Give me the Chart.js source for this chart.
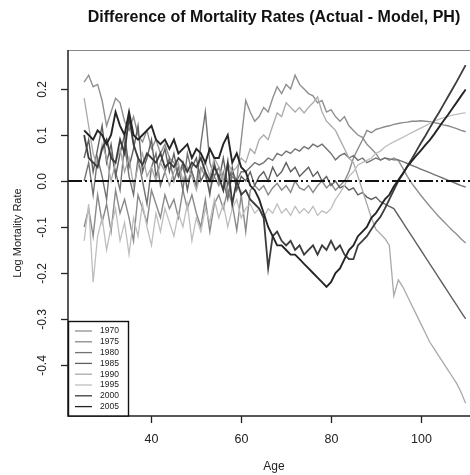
<!DOCTYPE html>
<html>
<head>
<meta charset="utf-8">
<script src="https://cdn.jsdelivr.net/npm/chart.js@4"></script>
<style>
  html, body { margin: 0; padding: 0; background: #fff; overflow: hidden; }
  #wrap { width: 480px; height: 475px; }
</style>
</head>
<body>
<div id="wrap"><canvas id="c" width="480" height="475"></canvas></div>
<script>
// Age grid (x axis)
const ages = [
  25, 26, 27, 28, 29, 30, 31, 32, 33, 34,
  35, 36, 37, 38, 39, 40, 41, 42, 43, 44,
  45, 46, 47, 48, 49, 50, 51, 52, 53, 54,
  55, 56, 57, 58, 59, 60, 61, 62, 63, 64,
  65, 66, 67, 68, 69, 70, 71, 72, 73, 74,
  75, 76, 77, 78, 79, 80, 81, 82, 83, 84,
  85, 86, 87, 88, 89, 90, 91, 92, 93, 94,
  95, 96, 97, 98, 99, 100, 101, 102, 103, 104,
  105, 106, 107, 108, 109, 110
];

const years = ['1970', '1975', '1980', '1985', '1990', '1995', '2000', '2005'];

// Log mortality difference (actual - model) by age, one list per year
const d1970 = [
  0.215, 0.23, 0.205, 0.21, 0.175, 0.12, 0.15, 0.18, 0.17, 0.13,
  0.11, 0.14, 0.10, 0.085, 0.11, 0.07, 0.09, 0.06, 0.08, 0.05,
  0.04, 0.01, 0.03, 0.00, 0.02, -0.01, 0.03, 0.01, -0.02, 0.01,
  -0.01, 0.02, -0.03, 0.01, 0.00, 0.09, 0.175, 0.15, 0.13, 0.14,
  0.16, 0.15, 0.18, 0.205, 0.19, 0.21, 0.20, 0.23, 0.21, 0.20,
  0.19, 0.185, 0.17, 0.175, 0.15, 0.155, 0.14, 0.13, 0.14, 0.12,
  0.11, 0.10, 0.095, 0.08, 0.07, 0.06, 0.045, 0.05, 0.045, 0.05,
  0.045, 0.028, 0.01, -0.005, -0.018, -0.031, -0.043, -0.055, -0.066, -0.077,
  -0.087, -0.097, -0.107, -0.116, -0.126, -0.135
];
const d1975 = [
  -0.10, -0.06, -0.12, -0.03, -0.09, -0.05, -0.11, -0.02, -0.07, -0.04,
  -0.08, -0.13, -0.03, -0.06, -0.09, -0.02, -0.05, -0.08, -0.03, -0.06,
  -0.04, -0.08, -0.02, -0.06, -0.03, -0.07, -0.10, -0.04, -0.11, -0.05,
  -0.03, -0.06, -0.02, -0.05, -0.107, -0.03, -0.11, -0.02, -0.01, -0.02,
  -0.01, -0.03, -0.015, -0.005, -0.02, -0.01, -0.025, 0.00, -0.015, -0.02,
  -0.01, -0.025, -0.01, 0.00, -0.015, -0.005, -0.02, -0.01, 0.00, 0.02,
  0.05, 0.07, 0.089, 0.11, 0.105, 0.112, 0.115, 0.118, 0.12, 0.123,
  0.125, 0.127, 0.128, 0.13, 0.13, 0.131, 0.13, 0.129, 0.127, 0.125,
  0.122, 0.12, 0.117, 0.114, 0.11, 0.107
];
const d1980 = [
  0.00, 0.04, -0.03, 0.05, 0.01, -0.04, 0.06, 0.02, -0.02, 0.08,
  0.01, -0.03, 0.05, 0.00, -0.05, 0.03, 0.06, -0.01, 0.02, 0.05,
  0.00, 0.03, -0.02, 0.06, 0.02, -0.01, 0.08, 0.15, 0.04, 0.01,
  0.03, 0.00, -0.04, 0.02, 0.00, 0.02, 0.02, 0.03, 0.04, 0.035,
  0.04, 0.05, 0.045, 0.06, 0.055, 0.065, 0.06, 0.07, 0.065, 0.075,
  0.07, 0.08, 0.074, 0.08, 0.07, 0.06, 0.046, 0.055, 0.06, 0.05,
  0.055, 0.045, 0.05, 0.04, 0.045, 0.05, 0.046, 0.05, 0.048, 0.046,
  0.046, 0.042, 0.038, 0.034, 0.03, 0.026, 0.022, 0.018, 0.014, 0.01,
  0.006, 0.002, -0.002, -0.006, -0.01, -0.013
];
const d1985 = [
  0.05, 0.09, 0.02, 0.07, 0.12, 0.04, 0.08, 0.01, 0.06, 0.10,
  0.03, 0.07, 0.12, 0.02, 0.05, 0.09, 0.01, 0.04, 0.07, 0.02,
  0.06, 0.01, 0.04, -0.02, 0.03, 0.05, 0.00, 0.02, -0.03, 0.04,
  0.00, 0.05, -0.01, 0.03, -0.02, 0.01, 0.00, 0.02, -0.01, 0.01,
  0.02, 0.00, 0.03, 0.01, 0.02, 0.04, 0.02, 0.03, 0.01, 0.02,
  0.03, 0.01, 0.02, 0.00, 0.01, -0.01, 0.00, -0.015, -0.01, -0.02,
  -0.015, -0.03, -0.025, -0.035, -0.04, -0.035, -0.045, -0.05, -0.055, -0.06,
  -0.075, -0.09, -0.105, -0.12, -0.135, -0.15, -0.165, -0.18, -0.195, -0.21,
  -0.225, -0.24, -0.255, -0.27, -0.285, -0.30
];
const d1990 = [
  0.18, 0.12, 0.06, 0.03, 0.08, 0.05, 0.00, 0.04, 0.07, 0.02,
  0.05, -0.01, 0.03, 0.06, 0.01, 0.03, 0.00, 0.04, 0.02, -0.01,
  0.02, 0.04, 0.00, 0.03, 0.01, -0.02, 0.02, 0.04, 0.01, 0.05,
  0.03, 0.00, 0.04, 0.02, 0.03, 0.05, 0.04, 0.07, 0.06, 0.09,
  0.10, 0.09, 0.12, 0.148, 0.14, 0.17, 0.16, 0.15, 0.16, 0.148,
  0.16, 0.17, 0.183, 0.15, 0.13, 0.12, 0.11, 0.09, 0.07, 0.05,
  0.04, 0.01, -0.02, -0.05, -0.08, -0.105, -0.115, -0.125, -0.14, -0.25,
  -0.215, -0.23, -0.25, -0.27, -0.29, -0.31, -0.33, -0.35, -0.365, -0.38,
  -0.395, -0.41, -0.425, -0.44, -0.46, -0.483
];
const d1995 = [
  -0.13, -0.05, -0.22, -0.12, -0.08, -0.15, -0.10, -0.06, -0.13, -0.09,
  -0.16, -0.08, -0.12, -0.05, -0.10, -0.14, -0.07, -0.11, -0.06, -0.09,
  -0.12, -0.07, -0.10, -0.05, -0.13, -0.08, -0.11, -0.06, -0.09, -0.04,
  -0.08, -0.05, -0.10, -0.06, -0.04, -0.08, -0.06, -0.05, -0.07, -0.06,
  -0.08, -0.06, -0.07, -0.05, -0.07, -0.06, -0.075, -0.055, -0.07, -0.06,
  -0.07, -0.055, -0.075, -0.065, -0.07, -0.06, -0.04, -0.026, -0.01, 0.01,
  0.02, 0.035, 0.04, 0.045, 0.05, 0.06, 0.065, 0.074, 0.08, 0.085,
  0.09, 0.095, 0.10, 0.105, 0.11, 0.115, 0.12, 0.125, 0.13, 0.134,
  0.137, 0.14, 0.143, 0.145, 0.147, 0.148
];
const d2000 = [
  0.10, 0.05, 0.04, 0.03, 0.07, 0.09, 0.05, 0.04, 0.09, 0.06,
  0.14, 0.08, 0.05, 0.035, 0.06, 0.05, 0.04, 0.06, 0.03, 0.04,
  0.03, 0.05, 0.04, 0.02, 0.04, 0.03, 0.05, 0.02, 0.00, 0.03,
  0.01, -0.02, 0.04, -0.05, 0.00, -0.03, -0.02, -0.04, -0.05, -0.06,
  -0.08, -0.19, -0.12, -0.11, -0.13, -0.14, -0.13, -0.15, -0.14, -0.16,
  -0.15, -0.14, -0.16, -0.14, -0.15, -0.13, -0.15, -0.14, -0.16, -0.17,
  -0.17, -0.14, -0.13, -0.12, -0.105, -0.09, -0.078, -0.06, -0.04, -0.02,
  0.00, 0.015, 0.032, 0.048, 0.065, 0.082, 0.098, 0.115, 0.132, 0.148,
  0.165, 0.182, 0.199, 0.216, 0.234, 0.252
];
const d2005 = [
  0.11, 0.10, 0.09, 0.11, 0.10, 0.08, 0.10, 0.15, 0.12, 0.10,
  0.15, 0.10, 0.09, 0.10, 0.11, 0.12, 0.09, 0.08, 0.09, 0.07,
  0.09, 0.06, 0.07, 0.08, 0.05, 0.07, 0.06, 0.04, 0.07, 0.05,
  0.05, 0.08, 0.10, 0.04, 0.06, 0.03, 0.02, -0.01, -0.02, -0.04,
  -0.07, -0.10, -0.12, -0.14, -0.14, -0.15, -0.16, -0.16, -0.17, -0.18,
  -0.19, -0.20, -0.21, -0.22, -0.23, -0.22, -0.20, -0.19, -0.17, -0.15,
  -0.14, -0.12, -0.11, -0.10, -0.08, -0.07, -0.055, -0.04, -0.03, -0.012,
  0.002, 0.016, 0.031, 0.043, 0.055, 0.066, 0.078, 0.089, 0.102, 0.116,
  0.13, 0.143, 0.157, 0.171, 0.185, 0.199
];
const seriesByYear = [d1970, d1975, d1980, d1985, d1990, d1995, d2000, d2005];

// Axis ticks
const xTicks = [40, 60, 80, 100];
const xTickLabels = ['40', '60', '80', '100'];
const yTicks = [-0.4, -0.3, -0.2, -0.1, 0, 0.1, 0.2];
const yTickLabels = ['-0.4', '-0.3', '-0.2', '-0.1', '0.0', '0.1', '0.2'];

const titleText = 'Difference of Mortality Rates (Actual - Model, PH)';
const xTitle = 'Age';
const yTitle = 'Log Mortality Rate';

const lineColors = ['#8f8f8f', '#8a8a8a', '#737373', '#606060', '#a9a9a9', '#bebebe', '#3c3c3c', '#242424'];
const lineWidths = [1.4, 1.4, 1.4, 1.4, 1.3, 1.3, 1.8, 1.9];

const FONT = '"Liberation Sans", Arial, Helvetica, sans-serif';

const datasets = years.map((yr, i) => ({
  label: yr,
  data: ages.map((a, k) => ({ x: a, y: seriesByYear[i][k] })),
  borderColor: lineColors[i],
  borderWidth: lineWidths[i],
  pointRadius: 0,
  tension: 0,
  fill: false,
  order: years.length - 1 - i
}));

// Dash-dot reference line at zero, drawn over the curves
const zeroLine = {
  id: 'zeroLine',
  afterDatasetsDraw(chart) {
    const { ctx, chartArea: a, scales: { y } } = chart;
    const py = y.getPixelForValue(0);
    ctx.save();
    ctx.beginPath();
    ctx.rect(a.left, a.top, a.right - a.left, a.bottom - a.top);
    ctx.clip();
    ctx.strokeStyle = '#111';
    ctx.lineWidth = 2;
    ctx.setLineDash([14, 3, 2, 3, 2, 3]);
    ctx.beginPath();
    ctx.moveTo(a.left, py);
    ctx.lineTo(a.right, py);
    ctx.stroke();
    ctx.restore();
  }
};

// Frame, ticks, labels, legend and title in base-graphics style
const frame = {
  id: 'frame',
  afterDraw(chart) {
    const { ctx, chartArea: a, scales: { x, y } } = chart;
    ctx.save();
    ctx.setLineDash([]);

    // plot box
    ctx.strokeStyle = '#888';
    ctx.lineWidth = 1;
    ctx.beginPath();
    ctx.moveTo(a.left, a.top + 0.5);
    ctx.lineTo(a.right, a.top + 0.5);
    ctx.stroke();
    ctx.strokeStyle = '#222';
    ctx.lineWidth = 1.5;
    ctx.beginPath();
    ctx.moveTo(a.left, a.top);
    ctx.lineTo(a.left, a.bottom);
    ctx.lineTo(a.right, a.bottom);
    ctx.stroke();

    // x ticks and labels
    ctx.fillStyle = '#222';
    ctx.font = '12.5px ' + FONT;
    ctx.textAlign = 'center';
    ctx.textBaseline = 'middle';
    ctx.lineWidth = 1.3;
    xTicks.forEach((v, i) => {
      const px = Math.round(x.getPixelForValue(v)) + 0.5;
      ctx.beginPath();
      ctx.moveTo(px, a.bottom);
      ctx.lineTo(px, a.bottom + 7);
      ctx.stroke();
      ctx.fillText(xTickLabels[i], px, 440);
    });
    ctx.font = '12px ' + FONT;
    ctx.fillText(xTitle, (a.left + a.right) / 2, 467);

    // y ticks and rotated labels
    yTicks.forEach((v, i) => {
      const py = Math.round(y.getPixelForValue(v)) + 0.5;
      ctx.beginPath();
      ctx.moveTo(a.left - 7, py);
      ctx.lineTo(a.left, py);
      ctx.stroke();
      ctx.save();
      ctx.translate(43, py);
      ctx.rotate(-Math.PI / 2);
      ctx.font = '12px ' + FONT;
      ctx.fillText(yTickLabels[i], 0, 0);
      ctx.restore();
    });
    ctx.save();
    ctx.translate(18, (a.top + a.bottom) / 2);
    ctx.rotate(-Math.PI / 2);
    ctx.font = '11px ' + FONT;
    ctx.fillText(yTitle, 0, 0);
    ctx.restore();

    // legend in the lower-left corner of the plot
    const lx = a.left, lw = 60, lh = 95;
    const ly = a.bottom - lh;
    ctx.fillStyle = '#fff';
    ctx.fillRect(lx, ly, lw, lh);
    ctx.strokeStyle = '#111';
    ctx.lineWidth = 1.4;
    ctx.strokeRect(lx + 0.5, ly + 0.5, lw, lh - 0.5);
    ctx.font = '8.5px ' + FONT;
    ctx.textAlign = 'left';
    chart.data.datasets.forEach((ds, i) => {
      const ry = ly + 10 + i * 10.8;
      ctx.strokeStyle = ds.borderColor;
      ctx.lineWidth = 1.3;
      ctx.beginPath();
      ctx.moveTo(lx + 7, ry);
      ctx.lineTo(lx + 24, ry);
      ctx.stroke();
      ctx.fillStyle = '#222';
      ctx.fillText(ds.label, lx + 32, ry);
    });

    // title
    ctx.fillStyle = '#111';
    ctx.font = 'bold 16px ' + FONT;
    ctx.textAlign = 'center';
    ctx.fillText(titleText, (a.left + a.right) / 2, 18);
    ctx.restore();
  }
};

new Chart(document.getElementById('c'), {
  type: 'line',
  data: { datasets },
  options: {
    responsive: false,
    animation: false,
    layout: { padding: { left: 68, top: 50, right: 0, bottom: 59 } },
    plugins: { legend: { display: false }, tooltip: { enabled: false }, title: { display: false } },
    scales: {
      x: { type: 'linear', min: 21.4, max: 113.2, display: false },
      y: { type: 'linear', min: -0.5109, max: 0.2848, display: false }
    }
  },
  plugins: [zeroLine, frame]
});
</script>
</body>
</html>
